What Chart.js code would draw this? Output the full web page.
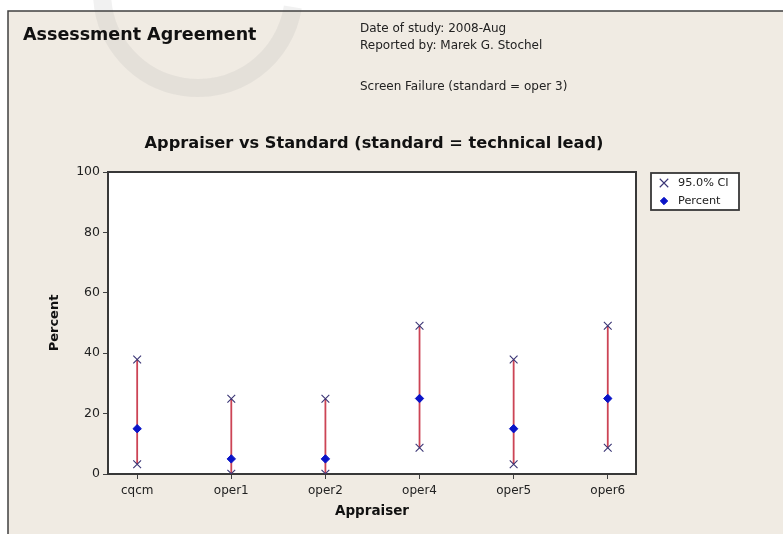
<!DOCTYPE html>
<html>
<head>
<meta charset="utf-8">
<script src="https://cdn.jsdelivr.net/npm/chart.js@4.4.1/dist/chart.umd.min.js"></script>
<style>
  html, body { margin: 0; padding: 0; background: #ffffff; }
  #wrap { position: relative; width: 783px; height: 534px; }
</style>
</head>
<body>
<div id="wrap"><canvas id="c" width="783" height="534"></canvas></div>
<script>
// ---- data ----
const categories = ['cqcm', 'oper1', 'oper2', 'oper4', 'oper5', 'oper6'];
const percentValues = [15, 5, 5, 25, 15, 25];
const ciLower = [3.2, 0.1, 0.1, 8.7, 3.2, 8.7];
const ciUpper = [37.9, 24.9, 24.9, 49.1, 37.9, 49.1];
const yTickValues = [0, 20, 40, 60, 80, 100];

const headerTitle = 'Assessment Agreement';
const headerLines = ['Date of study: 2008-Aug', 'Reported by: Marek G. Stochel', 'Screen Failure (standard = oper 3)'];
const chartTitle = 'Appraiser vs Standard (standard = technical lead)';
const legendLabels = ['95.0% CI', 'Percent'];

const FONT = "'DejaVu Sans', 'Liberation Sans', sans-serif";
const BG = '#f0ebe3';

// build datasets from the arrays
const segData = [];
categories.forEach((c, i) => {
  segData.push({ x: i, y: ciLower[i] });
  segData.push({ x: i, y: ciUpper[i] });
  segData.push({ x: i, y: null });
});
const ciData = [];
categories.forEach((c, i) => {
  ciData.push({ x: i, y: ciLower[i] });
  ciData.push({ x: i, y: ciUpper[i] });
});
const pctData = categories.map((c, i) => ({ x: i, y: percentValues[i] }));

const decorPlugin = {
  id: 'decor',
  beforeDraw(chart) {
    const ctx = chart.ctx;
    const W = chart.width, H = chart.height;
    ctx.save();
    ctx.fillStyle = '#ffffff';
    ctx.fillRect(0, 0, W, H);
    ctx.fillStyle = BG;
    ctx.fillRect(8, 11, W - 8, H - 11);
    // faint watermark ring
    ctx.strokeStyle = 'rgba(170,170,170,0.16)';
    ctx.lineWidth = 18;
    ctx.beginPath();
    ctx.arc(198, -8, 96, 0.05 * Math.PI, 0.98 * Math.PI);
    ctx.stroke();
    // frame
    ctx.strokeStyle = '#404040';
    ctx.lineWidth = 1.5;
    ctx.beginPath();
    ctx.moveTo(8, H);
    ctx.lineTo(8, 11);
    ctx.lineTo(W, 11);
    ctx.stroke();
    // plot area
    const a = chart.chartArea;
    ctx.fillStyle = '#ffffff';
    ctx.fillRect(a.left, a.top, a.right - a.left, a.bottom - a.top);
    // header texts
    ctx.fillStyle = '#111111';
    ctx.textBaseline = 'middle';
    ctx.textAlign = 'left';
    ctx.font = 'bold 17.5px ' + FONT;
    ctx.fillText(headerTitle, 23, 35);
    ctx.font = '12px ' + FONT;
    ctx.fillStyle = '#222222';
    ctx.fillText(headerLines[0], 360, 29);
    ctx.fillText(headerLines[1], 360, 46);
    ctx.fillText(headerLines[2], 360, 87);
    // chart title centred over the plot
    ctx.font = 'bold 16.2px ' + FONT;
    ctx.fillStyle = '#111111';
    ctx.textAlign = 'center';
    ctx.fillText(chartTitle, (a.left + a.right) / 2 + 2, 144);
    ctx.restore();
  },
  afterDraw(chart) {
    const ctx = chart.ctx;
    const a = chart.chartArea;
    ctx.save();
    ctx.strokeStyle = '#383838';
    ctx.lineWidth = 2;
    ctx.beginPath();
    ctx.moveTo(a.left, a.top);
    ctx.lineTo(a.right, a.top);
    ctx.lineTo(a.right, a.bottom);
    ctx.stroke();
    // legend box
    const lx = 651, ly = 173, lw = 88, lh = 37;
    ctx.fillStyle = '#ffffff';
    ctx.fillRect(lx, ly, lw, lh);
    ctx.strokeStyle = '#383838';
    ctx.lineWidth = 1.8;
    ctx.strokeRect(lx, ly, lw, lh);
    const items = [chart.data.datasets[1], chart.data.datasets[2]];
    items.forEach((ds, k) => {
      const y = ly + 10 + k * 18;
      ctx.fillStyle = ds.backgroundColor;
      ctx.strokeStyle = ds.borderColor;
      ctx.lineWidth = ds.borderWidth;
      Chart.helpers.drawPoint(ctx, {
        pointStyle: ds.pointStyle,
        radius: k === 0 ? ds.pointRadius + 0.5 : ds.pointRadius - 0.5,
        borderWidth: ds.borderWidth,
        rotation: 0
      }, 664, y);
      ctx.fillStyle = '#222222';
      ctx.font = '11.3px ' + FONT;
      ctx.textAlign = 'left';
      ctx.textBaseline = 'middle';
      ctx.fillText(ds.label, 678, y);
    });
    ctx.restore();
  }
};

new Chart(document.getElementById('c'), {
  type: 'scatter',
  data: {
    datasets: [
      {
        label: 'CI range',
        data: segData,
        showLine: true,
        spanGaps: false,
        borderColor: '#cc4455',
        borderWidth: 1.8,
        pointRadius: 0,
        pointHoverRadius: 0,
        order: 3
      },
      {
        label: legendLabels[0],
        data: ciData,
        pointStyle: 'crossRot',
        pointRadius: 5.5,
        borderColor: '#3a3575',
        backgroundColor: '#3a3575',
        borderWidth: 1.1,
        order: 2
      },
      {
        label: legendLabels[1],
        data: pctData,
        pointStyle: 'rectRot',
        pointRadius: 4.2,
        borderColor: '#0a14c8',
        backgroundColor: '#0a14c8',
        borderWidth: 1,
        order: 1
      }
    ]
  },
  options: {
    responsive: false,
    animation: false,
    devicePixelRatio: 1,
    layout: { padding: { left: 0, top: 172, right: 147, bottom: 0 } },
    plugins: {
      legend: { display: false },
      tooltip: { enabled: false },
      title: { display: false }
    },
    scales: {
      x: {
        type: 'linear',
        min: -0.31,
        max: 5.3,
        afterFit(s) { s.height = 60; },
        afterBuildTicks(s) { s.ticks = categories.map((c, i) => ({ value: i })); },
        ticks: {
          callback: (v) => categories[v],
          color: '#222222',
          font: { family: FONT, size: 12 },
          padding: 5,
          autoSkip: false,
          maxRotation: 0
        },
        grid: { drawOnChartArea: false, drawTicks: true, tickLength: 5, color: '#404040', lineWidth: 1 },
        border: { display: true, color: '#383838', width: 2 },
        title: {
          display: true,
          text: 'Appraiser',
          color: '#111111',
          font: { family: FONT, size: 13.5, weight: 'bold' },
          padding: { top: 0, bottom: 14 }
        }
      },
      y: {
        min: 0,
        max: 100,
        afterFit(s) { s.width = 108; },
        afterBuildTicks(s) { s.ticks = yTickValues.map(v => ({ value: v })); },
        ticks: {
          color: '#222222',
          font: { family: FONT, size: 12.5 },
          padding: 3
        },
        grid: { drawOnChartArea: false, drawTicks: true, tickLength: 5, color: '#404040', lineWidth: 1 },
        border: { display: true, color: '#383838', width: 2 },
        title: {
          display: true,
          text: 'Percent',
          color: '#111111',
          font: { family: FONT, size: 13, weight: 'bold' },
          padding: { top: 47, bottom: 0 }
        }
      }
    }
  },
  plugins: [decorPlugin]
});
</script>
</body>
</html>
